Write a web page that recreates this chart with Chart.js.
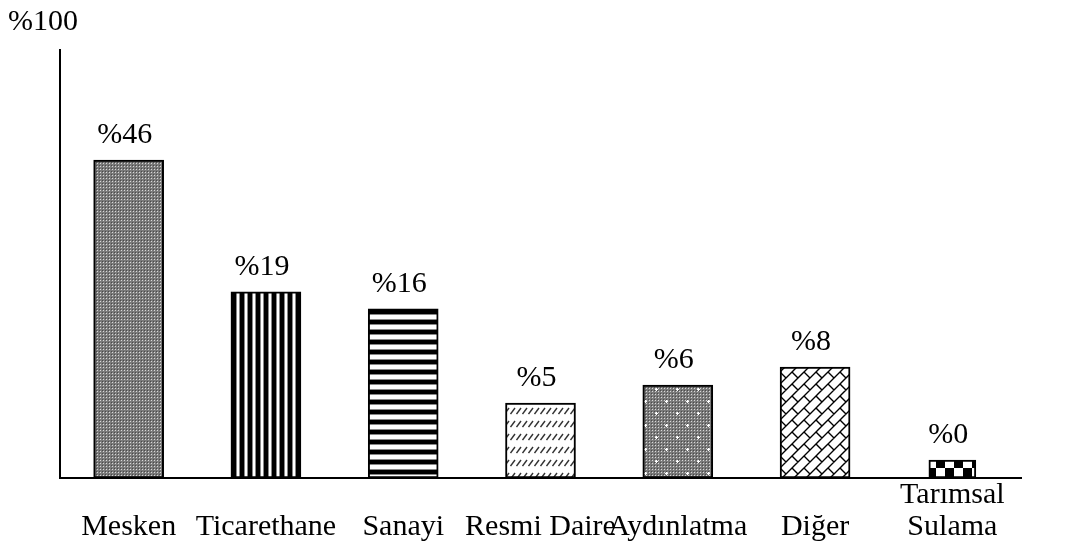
<!DOCTYPE html>
<html>
<head>
<meta charset="utf-8">
<script src="https://cdn.jsdelivr.net/npm/chart.js@4.4.1/dist/chart.umd.min.js"></script>
<style>
  body { margin: 0; background: #fff; }
  #wrap { width: 1068px; height: 549px; }
</style>
</head>
<body>
<div id="wrap"><canvas id="usage"></canvas></div>
<script>
// categories and values (bar heights, axis top = 100)
var categories = [['', 'Mesken'], ['', 'Ticarethane'], ['', 'Sanayi'], ['', 'Resmi Daire'],
                  ['', 'Aydınlatma'], ['', 'Diğer'], ['Tarımsal', 'Sulama']];
var barHeights = [74.3, 43.5, 39.5, 17.5, 21.7, 25.9, 4.2];
var barLabels = ['%46', '%19', '%16', '%5', '%6', '%8', '%0'];
var axisTopLabel = '%100';
var narrowIndex = 6;

var serif = '"Liberation Serif", "Times New Roman", serif';

// pattern helpers
function tile(w, h, draw) {
    var c = document.createElement('canvas');
    c.width = w; c.height = h;
    var g = c.getContext('2d');
    g.fillStyle = '#fff';
    g.fillRect(0, 0, w, h);
    draw(g, w, h);
    return g.createPattern(c, 'repeat');
}

function grey(g, w, h) {
    for (var y = 0; y < h; y++)
        for (var x = 0; x < w; x++) {
            var m = (x % 3) * 3 + (y % 3);
            g.fillStyle = m == 4 ? '#d8d8d8' : (m == 0 ? '#4a4a4a' : '#7a7a7a');
            g.fillRect(x, y, 1, 1);
        }
}

var patterns = [
    // Mesken: fine grey texture
    tile(3, 3, grey),
    // Ticarethane: vertical stripes
    tile(8, 8, function (g) {
        g.fillStyle = '#000'; g.fillRect(0, 0, 4, 8);
        g.fillStyle = '#888'; g.fillRect(4, 0, 1, 8); g.fillRect(7, 0, 1, 8);
    }),
    // Sanayi: horizontal stripes
    tile(10, 10, function (g) {
        g.fillStyle = '#000'; g.fillRect(0, 0, 10, 4);
        g.fillStyle = '#888'; g.fillRect(0, 4, 10, 1); g.fillRect(0, 9, 10, 1);
    }),
    // Resmi Daire: rows of small slashes
    tile(6, 13, function (g) {
        g.strokeStyle = '#333'; g.lineWidth = 1.4;
        g.beginPath(); g.moveTo(0.5, 11); g.lineTo(5, 5); g.stroke();
    }),
    // Aydınlatma: grey texture with white dots
    tile(21, 24, function (g, w, h) {
        grey(g, w, h);
        g.fillStyle = '#fff';
        [[5, 5], [15, 17]].forEach(function (p) {
            g.fillRect(p[0] - 1, p[1], 3, 1);
            g.fillRect(p[0], p[1] - 1, 1, 3);
        });
    }),
    // Diğer: diagonal bricks
    tile(24, 24, function (g) {
        g.strokeStyle = '#000'; g.lineWidth = 1.4;
        g.beginPath();
        for (var k = -6; k <= 8; k++) {
            var c = k * 12;
            g.moveTo(c + 40, -40); g.lineTo(c - 40, 40);
            for (var j = -4; j <= 4; j++) {
                var s = j * 24 + (((k % 2) + 2) % 2) * 12;
                g.moveTo((c + s) / 2, (c - s) / 2);
                g.lineTo((c + 12 + s) / 2, (c + 12 - s) / 2);
            }
        }
        g.stroke();
    }),
    // Tarımsal Sulama: checkerboard
    tile(18, 18, function (g) {
        g.fillStyle = '#000';
        g.fillRect(9, 0, 9, 9); g.fillRect(0, 9, 9, 9);
    })
];

var barLabelPlugin = {
    id: 'barLabels',
    afterDatasetsDraw: function (chart) {
        var ctx = chart.ctx;
        ctx.save();
        ctx.font = '30px ' + serif;
        ctx.fillStyle = '#000';
        ctx.textAlign = 'center';
        ctx.textBaseline = 'alphabetic';
        chart.data.datasets.forEach(function (ds, di) {
            chart.getDatasetMeta(di).data.forEach(function (bar, i) {
                if (ds.data[i] == null) return;
                ctx.fillText(barLabels[i], bar.x - 4, bar.y - 17);
            });
        });
        ctx.restore();
    }
};

var ctx = document.getElementById('usage').getContext('2d');
var usageChart = new Chart(ctx, {
    type: 'bar',
    data: {
        labels: categories,
        datasets: [{
            data: barHeights.map(function (v, i) { return i == narrowIndex ? null : v; }),
            backgroundColor: patterns,
            borderColor: '#000',
            borderWidth: 2,
            borderSkipped: false,
            barThickness: 70
        }, {
            data: barHeights.map(function (v, i) { return i == narrowIndex ? v : null; }),
            backgroundColor: patterns,
            borderColor: '#000',
            borderWidth: 2,
            borderSkipped: false,
            barThickness: 47
        }]
    },
    options: {
        responsive: true,
        maintainAspectRatio: false,
        animation: false,
        layout: { padding: { left: 8, right: 47, top: 0, bottom: 0 } },
        datasets: { bar: { grouped: false } },
        plugins: {
            legend: { display: false },
            tooltip: { enabled: false },
            title: {
                display: true,
                text: axisTopLabel,
                align: 'start',
                color: '#000',
                font: { family: serif, size: 30, weight: 'normal', lineHeight: 1.1 },
                padding: { top: 6, bottom: 11 }
            }
        },
        scales: {
            x: {
                grid: { display: false, drawTicks: false },
                border: { color: '#000', width: 2 },
                ticks: {
                    color: '#000',
                    font: { family: serif, size: 30, lineHeight: 1.07 },
                    padding: 1,
                    autoSkip: false,
                    maxRotation: 0
                },
                afterFit: function (scale) { scale.height = 71; }
            },
            y: {
                min: 0,
                max: 100,
                grid: { display: false, drawTicks: false },
                border: { color: '#000', width: 2 },
                ticks: { display: false },
                afterFit: function (scale) { scale.width = 52; }
            }
        }
    },
    plugins: [barLabelPlugin]
});
</script>
</body>
</html>
